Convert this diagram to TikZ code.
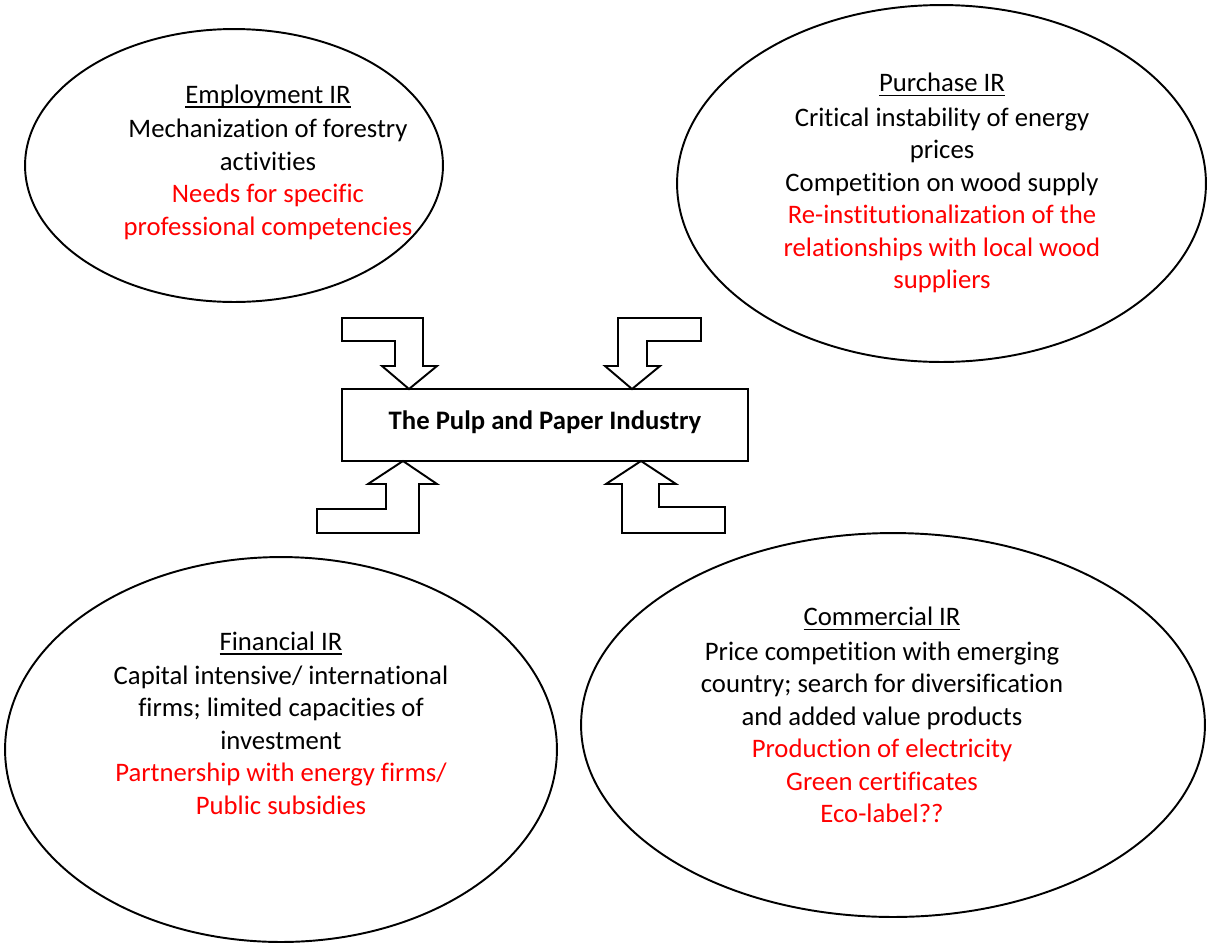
\documentclass[tikz,border=0pt]{standalone}
\usepackage{fontspec}
\setmainfont{Carlito}[Ligatures=NoCommon]
\usepackage{tikz}
\usetikzlibrary{shapes.geometric}
\newsavebox{\irbox}
\newcommand{\irtitle}[1]{\sbox{\irbox}{#1}\rlap{\rule[-2.6pt]{\wd\irbox}{0.9pt}}\usebox{\irbox}}

\begin{document}
\begin{tikzpicture}[x=0.02cm, y=-0.02cm,
    ir/.style={draw,ellipse,line width=1.1pt,inner sep=0pt},
    irtext/.style={align=center,font=\fontsize{15.2}{18.5}\selectfont},
    blockarrow/.style={draw,line width=1.1pt,fill=white,line join=miter}]
      \useasboundingbox (0,0) rectangle (1213,944);
      % the four ellipses
      \node[ir,minimum width=8.36cm,minimum height=5.46cm] (emp) at (234,165.5) {};
      \node[ir,minimum width=10.58cm,minimum height=7.14cm] (pur) at (941.5,183.5) {};
      \node[ir,minimum width=11.04cm,minimum height=7.7cm] (fin) at (281,749.5) {};
      \node[ir,minimum width=12.48cm,minimum height=7.68cm] (com) at (893,725) {};
      \node[irtext] (emptext) at (268,162) {\irtitle{Employment IR}\\[1pt]
         Mechanization of forestry\\ activities\\
         \textcolor{red}{Needs for specific}\\ \textcolor{red}{professional competencies}};
      \node[irtext] (purtext) at (942,183) {\irtitle{Purchase IR}\\[1pt]
         Critical instability of energy\\ prices\\ Competition on wood supply\\
         \textcolor{red}{Re-institutionalization of the}\\
         \textcolor{red}{relationships with local wood}\\ \textcolor{red}{suppliers}};
      \node[irtext] (fintext) at (281,723) {\irtitle{Financial IR}\\[1pt]
         Capital intensive/ international\\ firms; limited capacities of\\ investment\\
         \textcolor{red}{Partnership with energy firms/}\\ \textcolor{red}{Public subsidies}};
      \node[irtext] (comtext) at (882,715) {\irtitle{Commercial IR}\\[1pt]
         Price competition with emerging\\ country; search for diversification\\
         and added value products\\ \textcolor{red}{Production of electricity}\\
         \textcolor{red}{Green certificates}\\ \textcolor{red}{Eco-label??}};
      % the industry box
      \node[draw,line width=1.1pt,fill=white,minimum width=8.12cm,minimum height=1.44cm,
         font=\fontsize{15.2}{18}\selectfont\bfseries] (ppi) at (545,425) {\raisebox{5.5pt}{The Pulp and Paper Industry}};
      % block arrows
      \draw[blockarrow] (342,318) -- (423,318) -- (423,366) -- (437,366) -- (409,389)
         -- (382,366) -- (395,366) -- (395,341) -- (342,341) -- cycle;
      \draw[blockarrow] (701,318) -- (618,318) -- (618,366) -- (605,366) -- (632,389)
         -- (660,366) -- (647,366) -- (647,341) -- (701,341) -- cycle;
      \draw[blockarrow] (403,461) -- (437,484) -- (419,484) -- (419,533) -- (317,533)
         -- (317,509) -- (386,509) -- (386,484) -- (368,484) -- cycle;
      \draw[blockarrow] (641,461) -- (676,484) -- (659,484) -- (659,507) -- (725,507)
         -- (725,533) -- (622,533) -- (622,484) -- (606,484) -- cycle;
\end{tikzpicture}
\end{document}
